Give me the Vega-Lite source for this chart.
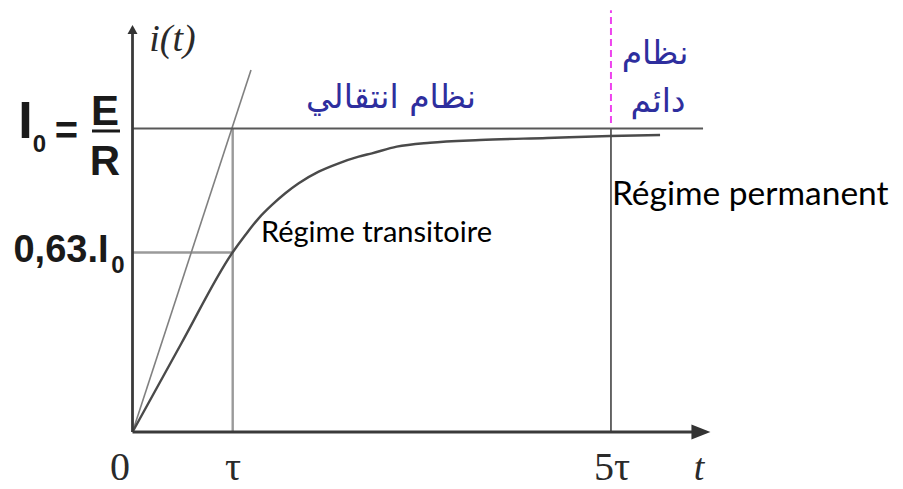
{
  "$schema": "https://vega.github.io/schema/vega-lite/v6.json",
  "width": 903,
  "height": 489,
  "autosize": {"type": "none"},
  "padding": 0,
  "background": "white",
  "config": {"view": {"stroke": null}},
  "datasets": {
    "curve": [
      {"t": 0, "i": 0},
      {"t": 0.487, "i": 0.2916},
      {"t": 0.993, "i": 0.5888},
      {"t": 1.126, "i": 0.649},
      {"t": 1.259, "i": 0.704},
      {"t": 1.392, "i": 0.748},
      {"t": 1.525, "i": 0.7865},
      {"t": 1.659, "i": 0.8194},
      {"t": 1.858, "i": 0.8577},
      {"t": 2.058, "i": 0.8853},
      {"t": 2.257, "i": 0.9071},
      {"t": 2.39, "i": 0.9183},
      {"t": 2.637, "i": 0.9401},
      {"t": 2.969, "i": 0.9532},
      {"t": 3.468, "i": 0.9621},
      {"t": 4.137, "i": 0.9687},
      {"t": 4.766, "i": 0.9753},
      {"t": 5.265, "i": 0.9786}
    ],
    "segs": [
      {"kind": "axis", "t": 0, "i": 0, "t2": 5.713, "i2": 0},
      {"kind": "axis", "t": 0, "i": 0, "t2": 0, "i2": 1.3245},
      {"kind": "dark", "t": 0, "i": 1, "t2": 5.694, "i2": 1},
      {"kind": "dark", "t": 4.775, "i": 0, "t2": 4.775, "i2": 1},
      {"kind": "light", "t": 1, "i": 0, "t2": 1, "i2": 1},
      {"kind": "light", "t": 0, "i": 0.5914, "t2": 1, "i2": 0.5914},
      {"kind": "tangent", "t": 0, "i": 0, "t2": 1.1826, "i2": 1.1928},
      {"kind": "magenta", "t": 4.775, "i": 1.018, "t2": 4.775, "i2": 1.39},
      {"kind": "bar", "t": -0.4042, "i": 0.9918, "t2": -0.1248, "i2": 0.9918}
    ],
    "arrows": [
      {"dir": "right", "t": 5.673, "i": 0},
      {"dir": "up", "t": 0, "i": 1.326}
    ],
    "labels": [
      {"kind": "tick", "text": "0", "t": -0.1248, "i": -0.1582},
      {"kind": "tick", "text": "τ", "t": 1.003, "i": -0.1582},
      {"kind": "tick", "text": "5τ", "t": 4.785, "i": -0.1582},
      {"kind": "italic", "text": "t", "t": 5.654, "i": -0.1582},
      {"kind": "italic", "text": "i(t)", "t": 0.3992, "i": 1.2554},
      {"kind": "ybig", "text": "I", "t": -1.0679, "i": 0.9687},
      {"kind": "yeq", "text": "=", "t": -0.6587, "i": 0.9489},
      {"kind": "ymid", "text": "E", "t": -0.2745, "i": 1.0115},
      {"kind": "ymid", "text": "R", "t": -0.2745, "i": 0.8468},
      {"kind": "ylow", "text": "0,63.I", "t": -0.7136, "i": 0.5601},
      {"kind": "ysub", "text": "0", "t": -0.9281, "i": 0.9226},
      {"kind": "ysub", "text": "0", "t": -0.1447, "i": 0.5239},
      {"kind": "frsmall", "text": "Régime transitoire", "t": 1.2824, "i": 0.626},
      {"kind": "frbig", "text": "Régime permanent", "t": 4.785, "i": 0.7479},
      {"kind": "ar", "text": "نظام انتقالي", "t": 2.5798, "i": 1.0675},
      {"kind": "ar", "text": "نظام", "t": 5.2146, "i": 1.2125},
      {"kind": "ar", "text": "دائم", "t": 5.2445, "i": 1.0544}
    ]
  },
  "encoding": {
    "x": {"field": "t", "type": "quantitative", "axis": null, "scale": {"domain": [-1.3224, 7.6896], "nice": false, "zero": false}},
    "y": {"field": "i", "type": "quantitative", "axis": null, "scale": {"domain": [-0.18781, 1.42339], "nice": false, "zero": false}}
  },
  "layer": [
    {
      "data": {"name": "segs"},
      "transform": [{"filter": "datum.kind === 'light'"}],
      "mark": {"type": "rule", "color": "#9a9a9a", "strokeWidth": 2.4},
      "encoding": {"x2": {"field": "t2"}, "y2": {"field": "i2"}}
    },
    {
      "data": {"name": "segs"},
      "transform": [{"filter": "datum.kind === 'tangent'"}],
      "mark": {"type": "rule", "color": "#808080", "strokeWidth": 1.6},
      "encoding": {"x2": {"field": "t2"}, "y2": {"field": "i2"}}
    },
    {
      "data": {"name": "segs"},
      "transform": [{"filter": "datum.kind === 'dark'"}],
      "mark": {"type": "rule", "color": "#585858", "strokeWidth": 1.8},
      "encoding": {"x2": {"field": "t2"}, "y2": {"field": "i2"}}
    },
    {
      "data": {"name": "segs"},
      "transform": [{"filter": "datum.kind === 'magenta'"}],
      "mark": {"type": "rule", "color": "#ee44ee", "strokeWidth": 2, "strokeDash": [7, 4]},
      "encoding": {"x2": {"field": "t2"}, "y2": {"field": "i2"}}
    },
    {
      "data": {"name": "curve"},
      "mark": {"type": "line", "color": "#4a4a4a", "strokeWidth": 2.4, "interpolate": "monotone"},
      "encoding": {}
    },
    {
      "data": {"name": "segs"},
      "transform": [{"filter": "datum.kind === 'axis'"}],
      "mark": {"type": "rule", "color": "#3a3a3a", "strokeWidth": 2.8},
      "encoding": {"x2": {"field": "t2"}, "y2": {"field": "i2"}}
    },
    {
      "data": {"name": "segs"},
      "transform": [{"filter": "datum.kind === 'bar'"}],
      "mark": {"type": "rule", "color": "#1a1a1a", "strokeWidth": 3},
      "encoding": {"x2": {"field": "t2"}, "y2": {"field": "i2"}}
    },
    {
      "data": {"name": "arrows"},
      "transform": [{"filter": "datum.dir === 'right'"}],
      "mark": {"type": "point", "filled": true, "opacity": 1, "color": "#333333", "size": 361, "shape": "M-1,-0.8L1,0L-1,0.8Z", "strokeWidth": 0}
    },
    {
      "data": {"name": "arrows"},
      "transform": [{"filter": "datum.dir === 'up'"}],
      "mark": {"type": "point", "filled": true, "opacity": 1, "color": "#333333", "size": 100, "shape": "M0,-0.9L1,0.9L-1,0.9Z", "strokeWidth": 0}
    },
    {
      "data": {"name": "labels"},
      "transform": [{"filter": "datum.kind === 'tick'"}],
      "mark": {"type": "text", "font": "Liberation Serif", "fontSize": 40, "color": "#2a2a2a", "align": "center", "baseline": "alphabetic"},
      "encoding": {"text": {"field": "text"}}
    },
    {
      "data": {"name": "labels"},
      "transform": [{"filter": "datum.kind === 'italic'"}],
      "mark": {"type": "text", "font": "Liberation Serif", "fontStyle": "italic", "fontSize": 38, "color": "#2a2a2a", "align": "center", "baseline": "alphabetic"},
      "encoding": {"text": {"field": "text"}}
    },
    {
      "data": {"name": "labels"},
      "transform": [{"filter": "datum.kind === 'ybig'"}],
      "mark": {"type": "text", "font": "Liberation Sans", "fontWeight": "bold", "fontSize": 52, "color": "#1a1a1a", "align": "center", "baseline": "alphabetic"},
      "encoding": {"text": {"field": "text"}}
    },
    {
      "data": {"name": "labels"},
      "transform": [{"filter": "datum.kind === 'yeq'"}],
      "mark": {"type": "text", "font": "Liberation Sans", "fontWeight": "bold", "fontSize": 40, "color": "#1a1a1a", "align": "center", "baseline": "alphabetic"},
      "encoding": {"text": {"field": "text"}}
    },
    {
      "data": {"name": "labels"},
      "transform": [{"filter": "datum.kind === 'ymid'"}],
      "mark": {"type": "text", "font": "Liberation Sans", "fontWeight": "bold", "fontSize": 42, "color": "#1a1a1a", "align": "center", "baseline": "alphabetic"},
      "encoding": {"text": {"field": "text"}}
    },
    {
      "data": {"name": "labels"},
      "transform": [{"filter": "datum.kind === 'ylow'"}],
      "mark": {"type": "text", "font": "Liberation Sans", "fontWeight": "bold", "fontSize": 38, "color": "#1a1a1a", "align": "center", "baseline": "alphabetic"},
      "encoding": {"text": {"field": "text"}}
    },
    {
      "data": {"name": "labels"},
      "transform": [{"filter": "datum.kind === 'ysub'"}],
      "mark": {"type": "text", "font": "Liberation Sans", "fontWeight": "bold", "fontSize": 24, "color": "#1a1a1a", "align": "center", "baseline": "alphabetic"},
      "encoding": {"text": {"field": "text"}}
    },
    {
      "data": {"name": "labels"},
      "transform": [{"filter": "datum.kind === 'frsmall'"}],
      "mark": {"type": "text", "font": "Lato", "fontSize": 29, "color": "#000000", "align": "left", "baseline": "alphabetic"},
      "encoding": {"text": {"field": "text"}}
    },
    {
      "data": {"name": "labels"},
      "transform": [{"filter": "datum.kind === 'frbig'"}],
      "mark": {"type": "text", "font": "Lato", "fontSize": 33.5, "color": "#000000", "align": "left", "baseline": "alphabetic"},
      "encoding": {"text": {"field": "text"}}
    },
    {
      "data": {"name": "labels"},
      "transform": [{"filter": "datum.kind === 'ar'"}],
      "mark": {"type": "text", "font": "DejaVu Sans", "fontSize": 33, "color": "#2e2e9e", "align": "center", "baseline": "alphabetic"},
      "encoding": {"text": {"field": "text"}}
    }
  ]
}
